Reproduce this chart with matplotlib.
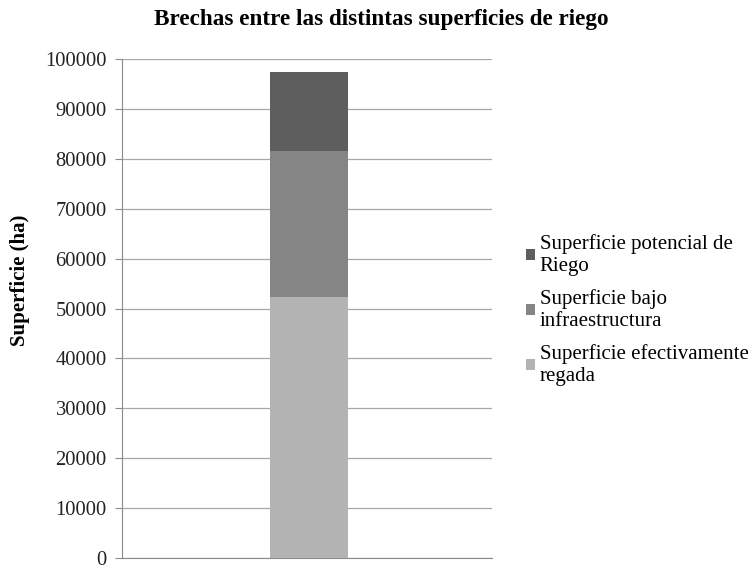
import matplotlib
matplotlib.use("Agg")
import matplotlib.pyplot as plt

categories = [""]
series_names = ["Superficie efectivamente\nregada", "Superficie bajo\ninfraestructura", "Superficie potencial de\nRiego"]
regada = [52400]
infraestructura = [29200]
potencial = [15800]
colors = ["#b3b3b3", "#858585", "#5e5e5e"]
yticks = list(range(0, 100001, 10000))

plt.rcParams['font.family'] = ['Liberation Serif', 'DejaVu Serif']

fig = plt.figure(figsize=(7.55, 5.69), dpi=100)
ax = fig.add_axes([122/755, 1-558/569, (492-122)/755, (558-59)/569])

x = [0]
b1 = ax.bar(x, regada, width=0.21, color=colors[0], label=series_names[0], zorder=3)
b2 = ax.bar(x, infraestructura, width=0.21, bottom=regada, color=colors[1], label=series_names[1], zorder=3)
bottom3 = [r + i for r, i in zip(regada, infraestructura)]
b3 = ax.bar(x, potencial, width=0.21, bottom=bottom3, color=colors[2], label=series_names[2], zorder=3)

ax.set_xlim(-0.505, 0.495)
ax.set_ylim(0, 100000)
ax.set_yticks(yticks)
ax.set_yticklabels([str(t) for t in yticks], fontsize=14.8, color="#222222")
ax.set_xticks([])
ax.grid(axis='y', color="#a8a8a8", linewidth=0.9, zorder=0)
for s in ['top', 'right']:
    ax.spines[s].set_visible(False)
ax.spines['left'].set_color("#8a8a8a")
ax.spines['bottom'].set_color("#8a8a8a")
ax.tick_params(axis='y', direction='out', length=5, color="#8a8a8a", pad=6)

ax.set_ylabel("Superficie (ha)", fontsize=15, fontweight='bold', va='center')
ax.yaxis.set_label_coords((20-122)/370, (558-280)/(558-59))
fig.text(0.505, 1-19/569, "Brechas entre las distintas superficies de riego",
         ha='center', va='center', fontsize=16.7, fontweight='bold')

handles = [b3, b2, b1]
labels = [series_names[2], series_names[1], series_names[0]]
leg = fig.legend(handles, labels, loc='center left', bbox_to_anchor=(526/755, 1-310/569),
                 frameon=False, fontsize=15, handlelength=0.45, handleheight=0.45,
                 handletextpad=0.2, labelspacing=0.65, borderpad=0, borderaxespad=0)

fig.savefig("out.png", dpi=100)
